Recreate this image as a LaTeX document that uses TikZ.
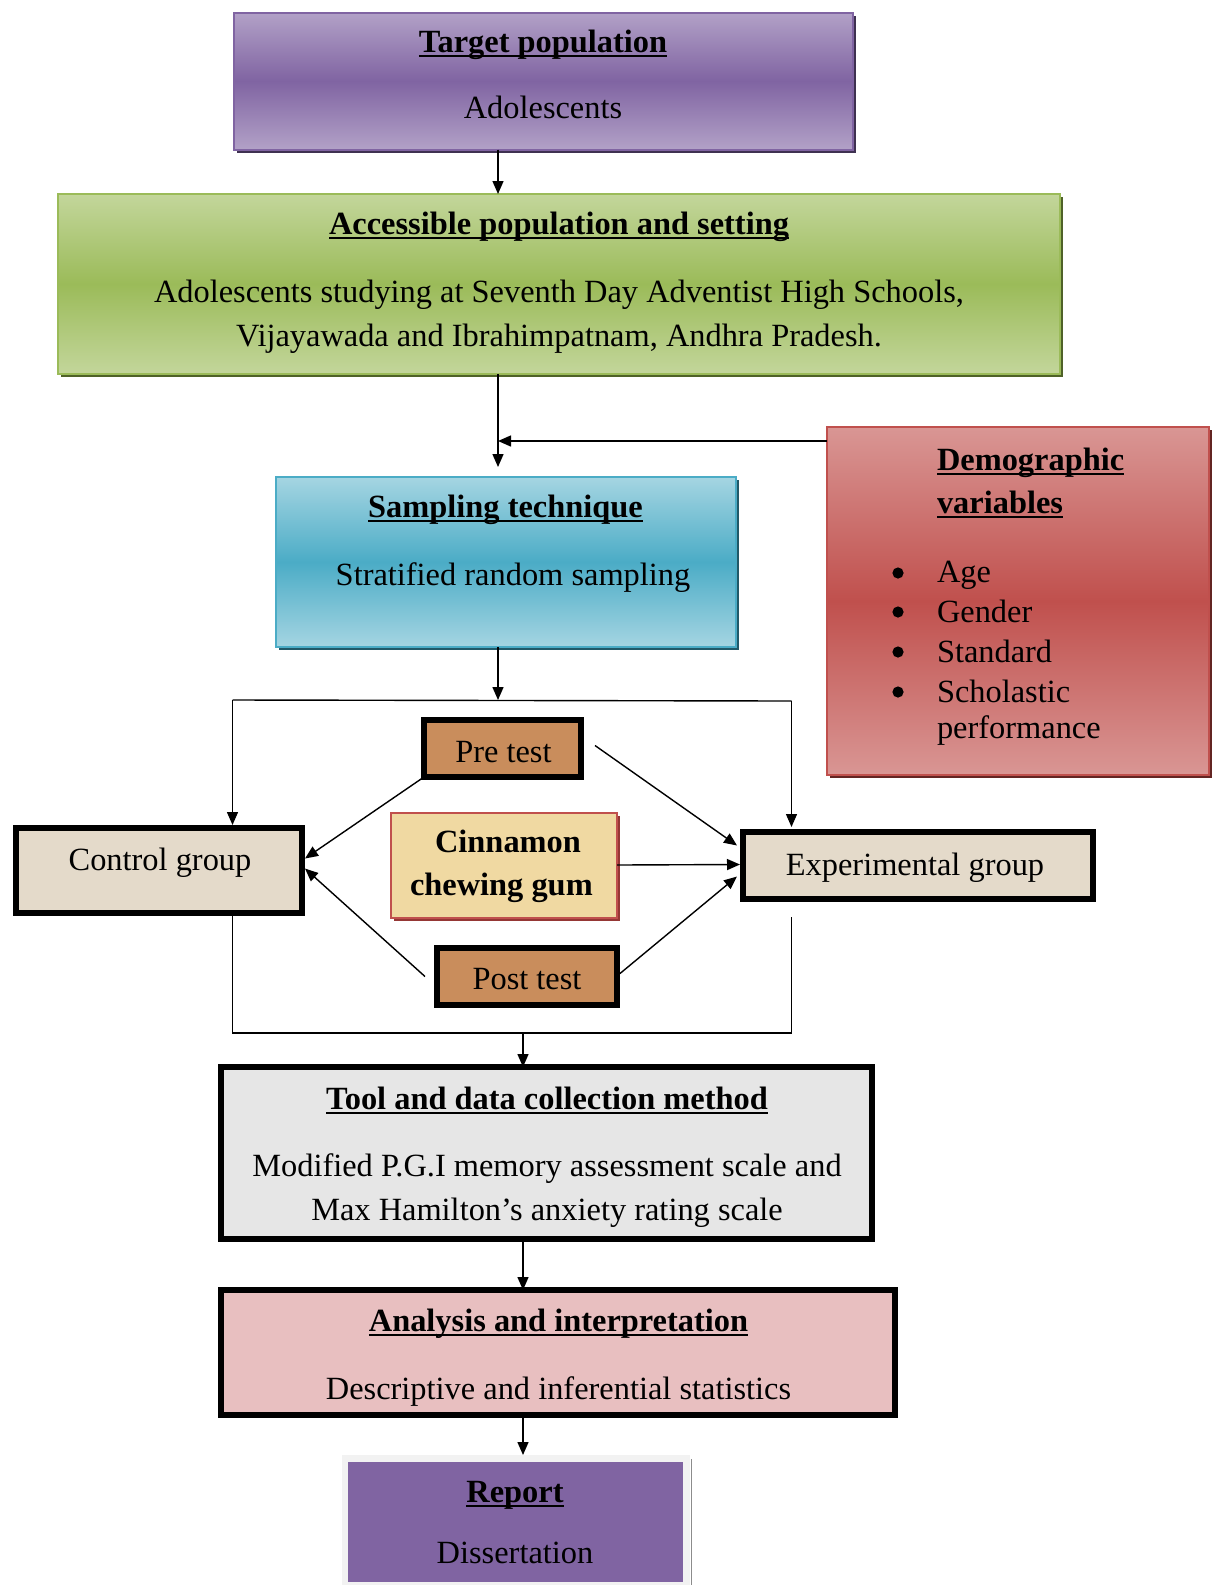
\documentclass[tikz,border=0pt]{standalone}
\usepackage{fontspec}
\setmainfont{Liberation Serif}
\usetikzlibrary{arrows.meta,shadows,calc}
\definecolor{purA}{HTML}{B2A1C7}\definecolor{purB}{HTML}{8064A2}\definecolor{purS}{HTML}{3F3151}
\definecolor{grnA}{HTML}{C3D69B}\definecolor{grnB}{HTML}{9BBB59}\definecolor{grnS}{HTML}{4F6228}
\definecolor{bluA}{HTML}{A5D5E2}\definecolor{bluB}{HTML}{4BACC6}\definecolor{bluS}{HTML}{215968}
\definecolor{redA}{HTML}{D99694}\definecolor{redB}{HTML}{C0504D}\definecolor{redS}{HTML}{632523}
\definecolor{linen}{HTML}{E4DACA}\definecolor{wood}{HTML}{C98D5C}\definecolor{papyr}{HTML}{F0D9A2}
\definecolor{cinS}{HTML}{953735}\definecolor{marble}{HTML}{E6E6E6}\definecolor{pinkt}{HTML}{E8BFC0}
\definecolor{repP}{HTML}{8064A2}
\newcommand\ulx[1]{\setbox0\hbox{#1}\rlap{\rule[-2.6pt]{\wd0}{1.1pt}}\box0}
\begin{document}
\begin{tikzpicture}[x=0.5pt,y=-0.5pt,
  every node/.style={font=\fontsize{16.2}{20}\selectfont, inner sep=0pt, outer sep=0pt},
  grad/.style n args={3}{draw=#1, line width=1pt, top color=#2, bottom color=#2, middle color=#1,
     general shadow={fill=#3, shadow xshift=1.5pt, shadow yshift=-1.5pt}},
  tbox/.style={draw=black, line width=3pt, fill=#1},
  txt/.style={anchor=base},
  bul/.style={circle, fill=black, minimum size=5.6pt},
  arr/.style={-{Triangle[length=6.5pt,width=5.5pt]}, line width=0.7pt},
  ln/.style={line width=0.7pt}]
\useasboundingbox (0,0) rectangle (1216,1585);
% boxes
\node[grad={purB}{purA}{purS}, minimum width=309.5pt, minimum height=68.5pt] (tgt) at (543,81) {};
\node[grad={grnB}{grnA}{grnS}, minimum width=501pt, minimum height=90pt] (acc) at (559,284) {};
\node[grad={bluB}{bluA}{bluS}, minimum width=230pt, minimum height=85pt] (samp) at (505.5,562) {};
\node[grad={redB}{redA}{redS}, minimum width=191pt, minimum height=174pt] (demo) at (1018,601) {};
\node[tbox=linen, minimum width=143pt, minimum height=42.5pt] (ctrl) at (159,870.5) {};
\node[tbox=wood, minimum width=78.5pt, minimum height=28.5pt] (pre) at (502.5,748.5) {};
\node[draw=redB, line width=1pt, fill=papyr, general shadow={fill=cinS, shadow xshift=1.5pt, shadow yshift=-1.5pt}, minimum width=113pt, minimum height=52.5pt] (cin) at (504,865) {};
\node[tbox=wood, minimum width=90pt, minimum height=28.5pt] (post) at (527,976.5) {};
\node[tbox=linen, minimum width=175pt, minimum height=33.5pt] (exp) at (918,865.5) {};
\node[tbox=marble, minimum width=325.5pt, minimum height=86pt] (tool) at (546.5,1153) {};
\node[tbox=pinkt, minimum width=336.75pt, minimum height=62.5pt] (ana) at (557.75,1352.5) {};
\node[fill=black!5, minimum width=174.15pt, minimum height=65pt] (repframe) at (515.85,1520) {};
\node[fill=repP, minimum width=167.5pt, minimum height=60pt] (rep) at (515.5,1522) {};
\draw[black!45, line width=0.5pt] (repframe.north east) ++(1.5,4) coordinate (rd1) -- (repframe.south east -| rd1);
% texts
\node[txt] (tgtT) at (543,52) {\bfseries\ulx{Target population}};
\node[txt] (tgtB) at (543,118) {Adolescents};
\node[txt] (accT) at (559,234) {\bfseries\ulx{Accessible population and setting}};
\node[txt] (accB1) at (559,302) {Adolescents studying at Seventh Day Adventist High Schools,};
\node[txt] (accB2) at (559,346) {Vijayawada and Ibrahimpatnam, Andhra Pradesh.};
\node[txt] (sampT) at (505.5,517) {\bfseries\ulx{Sampling technique}};
\node[txt] (sampB) at (513,585) {Stratified random sampling};
\node[anchor=base west] (demT1) at (937,470) {\bfseries\ulx{Demographic}};
\node[anchor=base west] (demT2) at (937,513) {\bfseries\ulx{variables}};
\node[anchor=base west] (dem1) at (937,582) {Age};
\node[anchor=base west] (dem2) at (937,622) {Gender};
\node[anchor=base west] (dem3) at (937,662) {Standard};
\node[anchor=base west] (dem4) at (937,702) {Scholastic};
\node[anchor=base west] (dem5) at (937,738) {performance};
\node[bul] (b1) at (898,573) {};
\node[bul] (b2) at (898,612) {};
\node[bul] (b3) at (898,652) {};
\node[bul] (b4) at (898,692) {};
\node[txt] (ctrlT) at (160,870) {Control group};
\node[txt] (preT) at (503.4,762) {Pre test};
\node[txt] (cinT1) at (508,852) {\bfseries Cinnamon};
\node[txt] (cinT2) at (501.4,895) {\bfseries chewing gum};
\node[txt] (postT) at (527,989) {Post test};
\node[txt] (expT) at (915,875) {Experimental group};
\node[txt] (toolT) at (547,1109) {\bfseries\ulx{Tool and data collection method}};
\node[txt] (toolB1) at (547,1176) {Modified P.G.I memory assessment scale and};
\node[txt] (toolB2) at (547,1220) {Max Hamilton’s anxiety rating scale};
\node[txt] (anaT) at (558.5,1331) {\bfseries\ulx{Analysis and interpretation}};
\node[txt] (anaB) at (558.5,1399) {Descriptive and inferential statistics};
\node[txt] (repT) at (515,1502) {\bfseries\ulx{Report}};
\node[txt] (repB) at (515,1563) {Dissertation};
% coordinates
\coordinate (xa) at (498,0);
\coordinate (j1) at (498,467);
\coordinate (dj) at (498,441);
\coordinate (ft) at (498,700);
\coordinate (fl) at (232.5,700);
\coordinate (fr) at (791.5,701);
\coordinate (bl) at (232.5,1033);
\coordinate (br) at (791.5,1033);
\coordinate (brt) at (791.5,917);
\coordinate (fb) at (523,1033);
% connectors
\draw[arr] (tgt.south -| xa) -- (acc.north -| xa);
\draw[arr] (acc.south -| xa) -- (j1);
\draw[arr] (demo.west |- dj) -- (dj);
\draw[arr] (samp.south -| xa) -- (ft);
\draw[ln] (fl) -- (fr);
\draw[arr, shorten >=1.5pt] (fl) -- (ctrl.north -| fl);
\draw[arr, shorten >=2.5pt] (fr) -- (exp.north -| fr);
\draw[ln] (ctrl.south -| fl) -- (bl) -- (br) -- (brt);
\draw[arr] (fb) -- (tool.north -| fb);
\draw[arr] (tool.south -| fb) -- (ana.north -| fb);
\draw[arr] (ana.south -| fb) -- (repframe.north -| fb);
\draw[arr] (pre.south west) -- ($(ctrl.east)+(3,-12)$);
\draw[arr] ($(post.west)+(-12,0)$) -- ($(ctrl.east)+(3,-2)$);
\draw[arr] ($(pre.east)+(14,-3)$) -- ($(exp.west)+(-6,-20)$);
\draw[arr] (cin.east) -- ($(exp.west)+(-3,-1)$);
\draw[arr] ($(post.east)+(3,-3)$) -- ($(exp.west)+(-6,11)$);
\end{tikzpicture}
\end{document}
